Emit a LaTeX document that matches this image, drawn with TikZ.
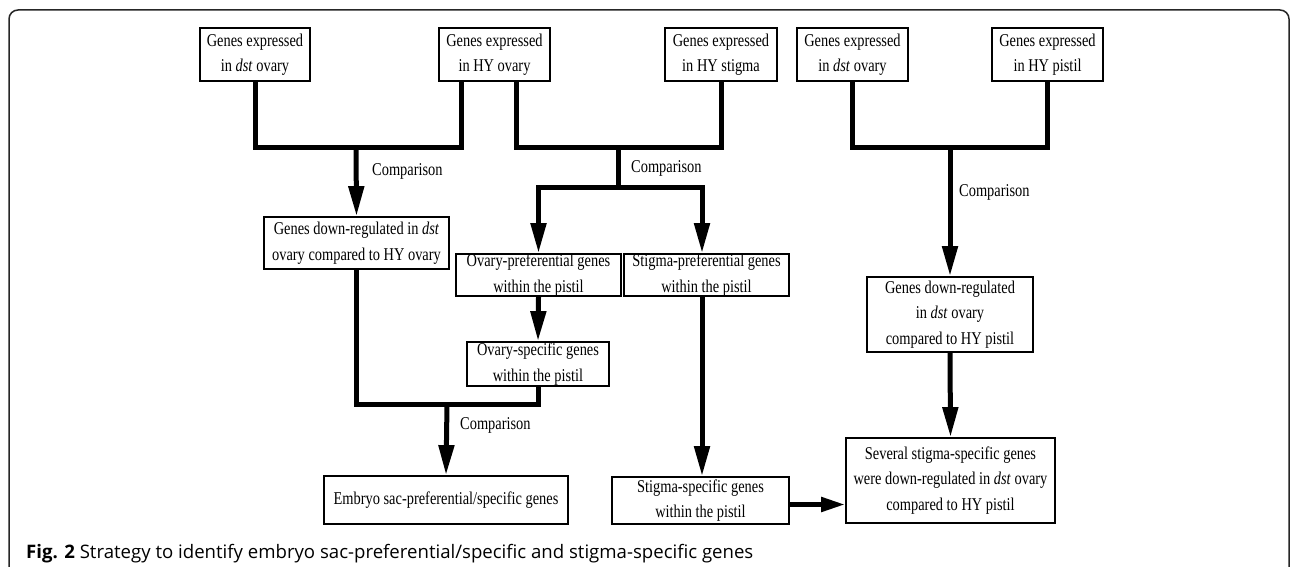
\documentclass[tikz,border=0pt]{standalone}
\usepackage{fontspec}
\setmainfont{Liberation Serif}[FakeStretch=0.8]
\newfontfamily\capfont{Open Sans}
\usetikzlibrary{arrows.meta}
\begin{document}
\begin{tikzpicture}[x=1pt,y=-1pt,
  box/.style={draw, line width=1.8pt, inner sep=0pt, align=center,
    font=\fontsize{18}{25.5}\selectfont},
  lbl/.style={anchor=west, inner sep=0pt, font=\fontsize{18}{20}\selectfont},
  conn/.style={line width=5pt},
  arr/.style={conn, -{Triangle[length=30pt,width=15pt]}},
  arrs/.style={conn, -{Triangle[length=24pt,width=14pt]}}]
\useasboundingbox[fill=white] (0,0) rectangle (1292,567);
\draw[line width=1.5pt, rounded corners=9pt, black!85] (9,567) -- (9,10) -- (1289,10) -- (1289,567);

% top boxes
\node[box, minimum width=110pt, minimum height=53pt] (A1) at (255,54.5) {Genes expressed\\in \textit{dst} ovary};
\node[box, minimum width=111pt, minimum height=53pt] (A2) at (494.5,54.5) {Genes expressed\\in HY ovary};
\node[box, minimum width=112pt, minimum height=53pt] (A3) at (721,54.5) {Genes expressed\\in HY stigma};
\node[box, minimum width=111pt, minimum height=53pt] (A4) at (852.5,54.5) {Genes expressed\\in \textit{dst} ovary};
\node[box, minimum width=111pt, minimum height=53pt] (A5) at (1047.5,54.5) {Genes expressed\\in HY pistil};

% middle boxes
\node[box, minimum width=185pt, minimum height=52pt] (B1) at (356.5,243) {Genes down-regulated in \textit{dst}\\ovary compared to HY ovary};
\node[box, minimum width=165pt, minimum height=42pt] (B2) at (538.5,275) {Ovary-preferential genes\\within the pistil};
\node[box, minimum width=165pt, minimum height=42pt] (B3) at (706.5,275) {Stigma-preferential genes\\within the pistil};
\node[box, minimum width=166pt, minimum height=75pt] (B4) at (950,314.5) {Genes down-regulated\\in \textit{dst} ovary\\compared to HY pistil};
\node[box, minimum width=142pt, minimum height=44pt] (C1) at (538,364) {Ovary-specific genes\\within the pistil};

% bottom boxes
\node[box, minimum width=244pt, minimum height=48pt] (D1) at (446,500) {Embryo sac-preferential/specific genes};
\node[box, minimum width=177pt, minimum height=47pt] (B5) at (700.5,500.5) {Stigma-specific genes\\within the pistil};
\node[box, minimum width=209pt, minimum height=85pt] (B6) at (950.5,480.5) {Several stigma-specific genes\\were down-regulated in \textit{dst} ovary\\compared to HY pistil};

% junction coordinates
\coordinate (m1) at (356,147);
\coordinate (m2) at (618,147);
\coordinate (s2) at (618,187);
\coordinate (s2r) at (702,187);
\coordinate (m3) at (950,147);
\coordinate (m4) at (447,404);

% connectors
\draw[conn] (A1.south) |- (m1) -| ([xshift=-33pt]A2.south);
\draw[arr] (m1) -- (B1.north);

\draw[conn] ([xshift=22pt]A2.south) |- (m2) -| (A3.south);
\draw[arr] (m2) |- (B2.north |- s2) -- (B2.north);
\draw[arr] (s2) -- (s2r) -- (s2r |- B3.north);

\draw[conn] (A4.south) |- (m3) -| (A5.south);
\draw[arr] (m3) -- (B4.north);
\draw[arr] (B4.south) -- (B6.north);

\draw[arr] (B2.south) -- (C1.north);
\draw[conn] (B1.south) |- (m4) -| (C1.south);
\draw[arr] (m4) -- (D1.north);

\draw[arr] (s2r |- B3.south) -- (s2r |- B5.north);
\draw[arrs] ([yshift=-4pt]B5.east) -- ([yshift=-4pt]B5.east -| B6.west);

% labels
\node[lbl] (L1) at (372,171) {Comparison};
\node[lbl] (L2) at (631,168) {Comparison};
\node[lbl] (L3) at (959,192) {Comparison};
\node[lbl] (L4) at (460,425) {Comparison};

% caption
\node[anchor=base west, inner sep=0pt, font=\capfont\fontsize{18.6}{20}\selectfont] (cap) at (26,558) {\textbf{Fig. 2} Strategy to identify embryo sac-preferential/specific and stigma-specific genes};
\end{tikzpicture}
\end{document}
